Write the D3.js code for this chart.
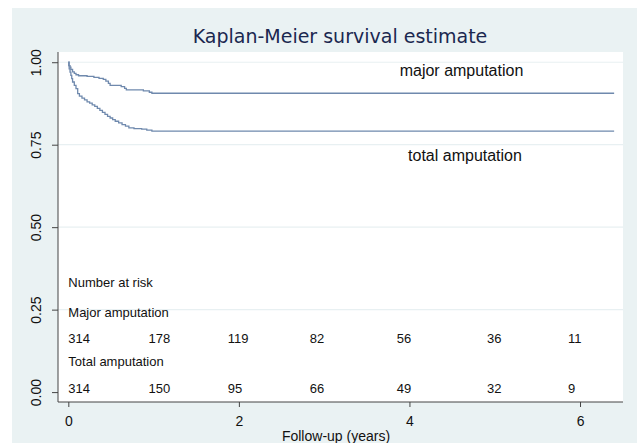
<!DOCTYPE html>
<html>
<head>
<meta charset="utf-8">
<script src="https://cdn.jsdelivr.net/npm/d3@7"></script>
<style>
  body { margin: 0; background: #fff; }
  text { font-family: "Liberation Sans", Arial, sans-serif; fill: #111; }
</style>
</head>
<body>
<script>
// Kaplan-Meier step estimates (years, survival)
const majorTime = [0, 0.01, 0.02, 0.03, 0.05, 0.07, 0.09, 0.12, 0.22, 0.30, 0.36, 0.41, 0.44, 0.47, 0.49, 0.62, 0.66, 0.68, 0.88, 0.95, 0.98, 6.4];
const majorSurv = [1, 0.99, 0.985, 0.978, 0.971, 0.966, 0.962, 0.959, 0.957, 0.954, 0.951, 0.948, 0.943, 0.936, 0.930, 0.926, 0.921, 0.916, 0.913, 0.909, 0.906, 0.906];

const totalTime = [0, 0.005, 0.01, 0.02, 0.03, 0.04, 0.05, 0.07, 0.09, 0.11, 0.13, 0.16, 0.19, 0.22, 0.25, 0.28, 0.31, 0.34, 0.37, 0.40, 0.43, 0.46, 0.49, 0.52, 0.55, 0.59, 0.63, 0.67, 0.71, 0.77, 0.86, 0.92, 0.98, 6.4];
const totalSurv = [1, 0.99, 0.98, 0.97, 0.96, 0.95, 0.94, 0.93, 0.92, 0.905, 0.897, 0.891, 0.886, 0.88, 0.876, 0.871, 0.866, 0.86, 0.854, 0.848, 0.842, 0.836, 0.831, 0.826, 0.821, 0.816, 0.811, 0.806, 0.801, 0.799, 0.797, 0.794, 0.791, 0.791];

// number at risk table
const riskYears = [0, 1, 2, 3, 4, 5, 6];
const riskMajor = [314, 178, 119, 82, 56, 36, 11];
const riskTotal = [314, 150, 95, 66, 49, 32, 9];

const xTicks = [0, 2, 4, 6];
const yTicks = [0, 0.25, 0.5, 0.75, 1];

const W = 637, H = 443;
const plot = { left: 58, top: 52, right: 623, bottom: 402 };

const svg = d3.select("body").append("svg")
  .attr("width", W)
  .attr("height", H);

// outer stata-like background
svg.append("rect")
  .attr("x", 12).attr("y", 8)
  .attr("width", W - 12).attr("height", H - 8)
  .attr("fill", "#eaf2f3");

svg.append("rect")
  .attr("x", plot.left).attr("y", plot.top)
  .attr("width", plot.right - plot.left).attr("height", plot.bottom - plot.top)
  .attr("fill", "#fff");

const x = d3.scaleLinear().domain([-0.121, 6.504]).range([plot.left, plot.right]);
const y = d3.scaleLinear().domain([-0.030, 1.031]).range([plot.bottom, plot.top]);

// grid
svg.append("g").selectAll("line")
  .data(yTicks.filter(d => d > 0))
  .enter()
  .append("line")
  .attr("x1", plot.left).attr("x2", plot.right)
  .attr("y1", d => y(d)).attr("y2", d => y(d))
  .attr("stroke", "#e8f0f2")
  .attr("stroke-width", 1.2);

// y axis
const yAxis = svg.append("g")
  .attr("transform", `translate(${plot.left},0)`)
  .call(d3.axisLeft(y).tickValues(yTicks).tickFormat(d3.format(".2f")).tickSize(6).tickSizeOuter(0));
yAxis.select(".domain").attr("d", `M0,${plot.top}V${plot.bottom}`);
yAxis.selectAll("line").attr("stroke", "#444");
yAxis.select(".domain").attr("stroke", "#444");
yAxis.selectAll("text")
  .attr("x", null).attr("dy", null)
  .attr("transform", "translate(-17,0) rotate(-90)")
  .attr("text-anchor", "middle")
  .style("font-size", "14px")
  .style("font-family", "Liberation Sans, Arial, sans-serif")
  .attr("fill", "#111");

// x axis
const xAxis = svg.append("g")
  .attr("transform", `translate(0,${plot.bottom})`)
  .call(d3.axisBottom(x).tickValues(xTicks).tickFormat(d3.format("d")).tickSize(5).tickSizeOuter(0));
xAxis.select(".domain").attr("d", `M${plot.left},0H${plot.right}`).attr("stroke", "#444");
xAxis.selectAll("line").attr("stroke", "#444");
xAxis.selectAll("text")
  .attr("y", 24).attr("dy", null)
  .style("font-size", "14px")
  .style("font-family", "Liberation Sans, Arial, sans-serif")
  .attr("fill", "#111");

svg.append("text")
  .attr("x", 336).attr("y", 441)
  .attr("text-anchor", "middle")
  .style("font-size", "14px")
  .text("Follow-up (years)");

// curves
const line = d3.line()
  .x(d => x(d[0]))
  .y(d => y(d[1]))
  .curve(d3.curveStepAfter);

[[majorTime, majorSurv], [totalTime, totalSurv]].forEach(function (s) {
  svg.append("path")
    .datum(d3.zip(s[0], s[1]))
    .attr("d", line)
    .attr("fill", "none")
    .attr("stroke", "#6f89ad")
    .attr("stroke-width", 1.3);
});

// curve labels
svg.append("text")
  .attr("x", 461.5).attr("y", 76)
  .attr("text-anchor", "middle")
  .style("font-size", "16px")
  .text("major amputation");
svg.append("text")
  .attr("x", 465).attr("y", 161)
  .attr("text-anchor", "middle")
  .style("font-size", "16px")
  .text("total amputation");

// title
svg.append("text")
  .attr("x", 340).attr("y", 43)
  .attr("text-anchor", "middle")
  .style("font-family", "DejaVu Sans, Verdana, sans-serif")
  .style("font-size", "19px")
  .style("fill", "#1b2850")
  .text("Kaplan-Meier survival estimate");

// number at risk table (left aligned, positions slightly off the year ticks like the original)
const riskPos = [0, 0.94, 1.87, 2.83, 3.85, 4.91, 5.86];
const tbl = svg.append("g").style("font-size", "13px");
tbl.append("text").attr("x", x(0)).attr("y", 287).text("Number at risk");
tbl.append("text").attr("x", x(0)).attr("y", 317).text("Major amputation");
tbl.append("text").attr("x", x(0)).attr("y", 366).text("Total amputation");

tbl.selectAll(".rm")
  .data(riskMajor)
  .enter()
  .append("text")
  .attr("x", (d, i) => x(riskPos[i]))
  .attr("y", 343)
  .text(d => d);

tbl.selectAll(".rt")
  .data(riskTotal)
  .enter()
  .append("text")
  .attr("x", (d, i) => x(riskPos[i]))
  .attr("y", 393)
  .text(d => d);
</script>
</body>
</html>
